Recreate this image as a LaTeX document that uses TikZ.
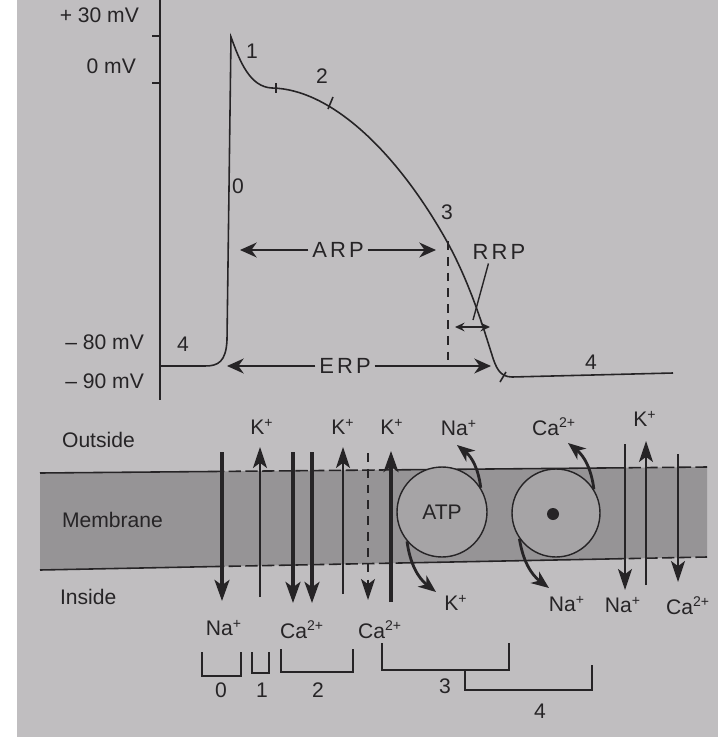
\documentclass[tikz,border=0pt]{standalone}
\usepackage{fontspec}
\setmainfont{Liberation Sans}
\newfontfamily\widefont[LetterSpace=14]{Liberation Sans}
\usetikzlibrary{arrows.meta}

\definecolor{paper}{RGB}{192,190,192}
\definecolor{memb}{RGB}{150,148,150}
\definecolor{pumpfill}{RGB}{166,164,166}
\definecolor{ink}{RGB}{38,36,38}

\tikzset{
  lbl/.style={font=\fontsize{12}{14}\selectfont, text=ink, inner sep=1pt},
  per/.style={font=\fontsize{12.5}{14}\selectfont\widefont, text=ink, inner sep=2pt},
  apline/.style={draw=ink, line width=0.9pt},
  memline/.style={draw=ink, line width=0.9pt},
  dashdash/.style={dash pattern=on 7pt off 2.5pt},
  spanarrow/.style={draw=ink, line width=0.8pt, -{Stealth[length=9.5pt,width=8.5pt,inset=3pt]}},
  bigion/.style={draw=ink, line width=1.8pt, -{Stealth[length=12pt,width=8.5pt,inset=3pt]}},
  thinion/.style={draw=ink, line width=0.8pt, -{Stealth[length=12pt,width=8pt,inset=3pt]}},
  dashion/.style={draw=ink, line width=0.8pt, dash pattern=on 5pt off 4pt, -{Stealth[length=12pt,width=8pt,inset=3pt]}},
  pumparrow/.style={draw=ink, line width=1.6pt, -{Stealth[length=10pt,width=8pt,inset=3pt]}},
  pump/.style={circle, draw=ink, line width=0.8pt, fill=pumpfill, inner sep=0pt},
  brack/.style={draw=ink, line width=0.9pt}
}

\begin{document}
\begin{tikzpicture}[x=0.02cm, y=-0.02cm]
\useasboundingbox (0,0) rectangle (718,737);
\fill[white] (0,0) rectangle (718,737);
\fill[paper] (17,0) rectangle (718,737);

% --- ACTION POTENTIAL ---
\draw[apline] (160,0) -- (160,400);
\draw[apline] (152,36) -- (160,36);
\draw[apline] (152,83) -- (160,83);

\node[lbl, anchor=east] (mv30) at (141,15) {+ 30 mV};
\node[lbl, anchor=east] (mv0) at (138,66) {0 mV};
\node[lbl, anchor=east] (mv80) at (146,342) {– 80 mV};
\node[lbl, anchor=east] (mv90) at (146,381) {– 90 mV};

\coordinate (rest) at (160,366);
\draw[apline] (rest) -- (205,366) .. controls (218,366) and (226,362) .. (227,340)
  -- (231,37) .. controls (240,62) and (250,87) .. (272,88)
  .. controls (330,89) and (395,150) .. (445,238)
  .. controls (470,282) and (484,330) .. (492,355)
  .. controls (496,368) and (500,377) .. (512,377) -- (673,373);

% phase ticks
\draw[apline] (276,83) -- (276,93);
\draw[apline] (328,109) -- (333,97);
\draw[apline] (500,382) -- (506,372);

\node[lbl] (ph0) at (238,186) {0};
\node[lbl] (ph1) at (252,51) {1};
\node[lbl] (ph2) at (322,76) {2};
\node[lbl] (ph3) at (447,212) {3};
\node[lbl] (ph4a) at (183,344) {4};
\node[lbl] (ph4b) at (591,362) {4};

% refractory periods
\node[per] (arp) at (338,250) {ARP};
\coordinate (arpL) at (240,250);
\coordinate (arpR) at (436,250);
\draw[spanarrow] (arp.west) -- (arpL);
\draw[spanarrow] (arp.east) -- (arpR);

\node[per] (erp) at (345,366) {ERP};
\coordinate (erpL) at (227,366);
\coordinate (erpR) at (491,366);
\draw[spanarrow] (erp.west) -- (erpL);
\draw[spanarrow] (erp.east) -- (erpR);

\coordinate (dtop) at (448,241);
\coordinate (dbot) at (448,362);
\draw[draw=ink, line width=0.8pt, dash pattern=on 5pt off 4pt] (dtop) -- (dbot);

\node[per] (rrp) at (499,252) {RRP};
\coordinate (rrpEnd) at (473,320);
\draw[draw=ink, line width=0.8pt] ([xshift=-6pt]rrp.south) -- (rrpEnd);
\coordinate (rrpL) at (455,327);
\coordinate (rrpR) at (490,327);
\draw[draw=ink, line width=0.8pt, {Stealth[length=5.5pt,width=5pt,inset=2pt]}-{Stealth[length=5.5pt,width=5pt,inset=2pt]}] (rrpL) -- (rrpR);

% --- MEMBRANE ---
\fill[memb] (40,473) -- (707,467) -- (707,557) -- (40,570) -- cycle;
\draw[memline] (40,473) -- (212,471.5);
\draw[memline, dashdash] (212,471.5) -- (400,469.8);
\draw[memline] (400,469.8) -- (612,467.9);
\draw[memline, dashdash] (612,467.9) -- (707,467);
\draw[memline] (40,570) -- (212,566.6);
\draw[memline, dashdash] (212,566.6) -- (400,563);
\draw[memline] (400,563) -- (612,558.9);
\draw[memline, dashdash] (612,558.9) -- (707,557);

\node[lbl, anchor=west] (outside) at (60,440) {Outside};
\node[lbl, anchor=west] (membrane) at (60,520) {Membrane};
\node[lbl, anchor=west] (inside) at (58,597) {Inside};

% channels
\foreach \n/\x/\a/\b/\s in {c1/222/452/601/bigion, c2/260/597/447/thinion,
    c3/293/452/603/bigion, c4/312/452/603/bigion, c5/343/594/447/thinion,
    c6/368/453/600/dashion, c7/391/602/451/bigion,
    c8/625/444/590/thinion, c9/646/585/441/thinion, c10/678/454/582/thinion}{
  \coordinate (\n s) at (\x,\a);
  \coordinate (\n e) at (\x,\b);
  \draw[\s] (\n s) -- (\n e);
}

\node[lbl] (k1) at (262,427) {K\textsuperscript{+}};
\node[lbl] (k2) at (343,427) {K\textsuperscript{+}};
\node[lbl] (k3) at (392,427) {K\textsuperscript{+}};
\node[lbl] (k4) at (645,419) {K\textsuperscript{+}};
\node[lbl] (na1) at (224,628) {Na\textsuperscript{+}};
\node[lbl] (ca1) at (302,630) {Ca\textsuperscript{2+}};
\node[lbl] (ca2) at (380,630) {Ca\textsuperscript{2+}};
\node[lbl] (na4) at (623,605) {Na\textsuperscript{+}};
\node[lbl] (ca4) at (688,606) {Ca\textsuperscript{2+}};

% pumps
\node[pump, minimum size=1.8cm, font=\fontsize{12}{14}\selectfont, text=ink] (atp) at (442,512) {ATP};
\node[pump, minimum size=1.76cm] (exch) at (556,513) {};
\fill[ink] (553,514) circle (0.12cm);

\node[lbl] (na2) at (459,428) {Na\textsuperscript{+}};
\node[lbl] (k5) at (456,603) {K\textsuperscript{+}};
\node[lbl] (ca3) at (554,427) {Ca\textsuperscript{2+}};
\node[lbl] (na3) at (567,604) {Na\textsuperscript{+}};

\coordinate (na2e) at (457,445);
\coordinate (k5e) at (436,592);
\coordinate (ca3e) at (568,443);
\coordinate (na3e) at (549,588);
\draw[pumparrow] (atp.32) to[bend right=22] (na2e);
\draw[pumparrow] (atp.220) to[bend right=22] (k5e);
\draw[pumparrow] (exch.32) to[bend right=22] (ca3e);
\draw[pumparrow] (exch.215) to[bend right=22] (na3e);

% --- PHASE BRACKETS ---
\draw[brack] (202,652) -- (202,676) -- (241,676) -- (241,652);
\draw[brack] (252,652) -- (252,673) -- (269,673) -- (269,652);
\draw[brack] (281,649) -- (281,672) -- (353,672) -- (353,649);
\draw[brack] (382,643) -- (382,670) -- (509,670) -- (509,643);
\draw[brack] (465,670) -- (465,690) -- (592,690) -- (592,665);

\node[lbl] (b0) at (221,690) {0};
\node[lbl] (b1) at (262,690) {1};
\node[lbl] (b2) at (318,690) {2};
\node[lbl] (b3) at (445,686) {3};
\node[lbl] (b4) at (540,711) {4};

\end{tikzpicture}
\end{document}
